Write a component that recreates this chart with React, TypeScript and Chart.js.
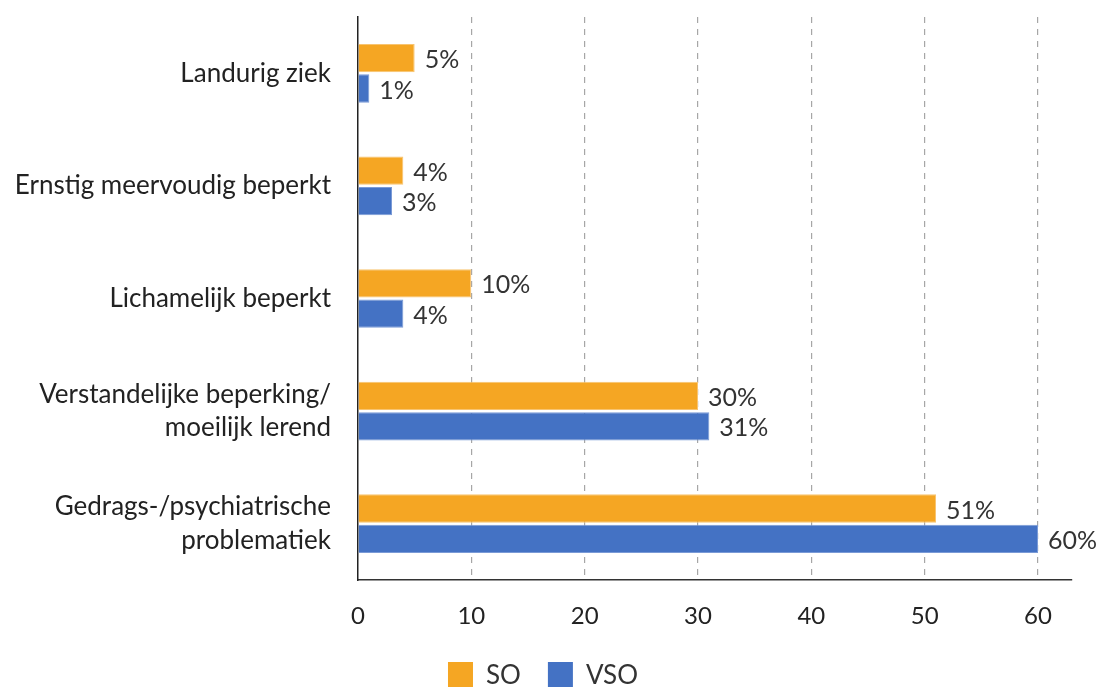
import React, { useEffect, useRef } from "react";
import { Chart, registerables } from "chart.js";

Chart.register(...registerables);

const categories: (string | string[])[] = [
  "Landurig ziek",
  "Ernstig meervoudig beperkt",
  "Lichamelijk beperkt",
  ["Verstandelijke beperking/", "moeilijk lerend"],
  ["Gedrags-/psychiatrische", "problematiek"],
];
const soValues = [5, 4, 10, 30, 51];
const vsoValues = [1, 3, 4, 31, 60];
const xTicks = [0, 10, 20, 30, 40, 50, 60];

const FONT = "Lato, 'Open Sans', sans-serif";

const valueLabels = {
  id: "valueLabels",
  afterDatasetsDraw(chart: any) {
    const ctx = chart.ctx;
    ctx.save();
    ctx.font = `25px ${FONT}`;
    ctx.fillStyle = "#333333";
    ctx.textAlign = "left";
    ctx.textBaseline = "middle";
    chart.data.datasets.forEach((ds: any, i: number) => {
      const meta = chart.getDatasetMeta(i);
      meta.data.forEach((bar: any, j: number) => {
        ctx.fillText(`${ds.data[j]}%`, bar.x + 10, bar.y + 2);
      });
    });
    ctx.restore();
  },
};

// Legend drawn from the chart's datasets, placed at the bottom of the canvas.
const bottomLegend = {
  id: "bottomLegend",
  afterDraw(chart: any) {
    const ctx = chart.ctx;
    const box = 25;
    const textGap = 13;
    const itemGap = 27;
    ctx.save();
    ctx.font = `26px ${FONT}`;
    ctx.textBaseline = "middle";
    ctx.textAlign = "left";
    const items = chart.data.datasets.map((ds: any) => ({
      label: ds.label as string,
      color: ds.backgroundColor as string,
      w: ctx.measureText(ds.label).width,
    }));
    const total =
      items.reduce((s: number, it: any) => s + box + textGap + it.w, 0) + itemGap * (items.length - 1);
    let x = chart.width / 2 - 8 - total / 2;
    const top = chart.height - 25;
    items.forEach((it: any) => {
      ctx.fillStyle = it.color;
      ctx.fillRect(x, top, box, box);
      x += box + textGap;
      ctx.fillStyle = "#333333";
      ctx.fillText(it.label, x, top + box / 2 + 1);
      x += it.w + itemGap;
    });
    ctx.restore();
  },
};

export default function App() {
  const ref = useRef<HTMLCanvasElement>(null);
  useEffect(() => {
    document.body.style.margin = "0";
    const chart = new Chart(ref.current!, {
      type: "bar",
      data: {
        labels: categories,
        datasets: [
          {
            label: "SO",
            data: soValues,
            backgroundColor: "#F5A623",
            borderColor: "#F8C470",
            borderWidth: 1,
            categoryPercentage: 0.54,
            barPercentage: 0.93,
          },
          {
            label: "VSO",
            data: vsoValues,
            backgroundColor: "#4472C4",
            borderColor: "#7A9AD6",
            borderWidth: 1,
            categoryPercentage: 0.54,
            barPercentage: 0.93,
          },
        ],
      },
      options: {
        indexAxis: "y",
        animation: false,
        responsive: false,
        layout: { padding: { top: 17, right: 30, left: 0, bottom: 37 } },
        plugins: {
          legend: { display: false },
          tooltip: { enabled: false },
        },
        scales: {
          x: {
            min: 0,
            max: 63,
            afterBuildTicks: (scale: any) => {
              scale.ticks = xTicks.map((v) => ({ value: v }));
            },
            afterFit: (scale: any) => {
              scale.height = 70;
              scale.paddingLeft = 0;
              scale.paddingRight = 0;
            },
            grid: {
              color: (c: any) => (c.tick && c.tick.value === 0 ? "rgba(0,0,0,0)" : "#A6A6A6"),
              lineWidth: 1.2,
              tickLength: 0,
              drawTicks: false,
            },
            border: { display: true, color: "#333333", width: 1.5, dash: [6, 6] as any },
            ticks: {
              color: "#222222",
              padding: 22,
              font: { family: FONT, size: 24 },
            },
          },
          y: {
            afterFit: (scale: any) => {
              scale.width = 358;
              scale.paddingTop = 0;
              scale.paddingBottom = 0;
            },
            grid: { display: false, drawTicks: false },
            border: { display: true, color: "#222222", width: 1.5 },
            ticks: {
              color: "#222222",
              padding: 27,
              font: { family: FONT, size: 26, lineHeight: 1.3 },
            },
          },
        },
      },
      plugins: [valueLabels, bottomLegend],
    } as any);
    return () => chart.destroy();
  }, []);
  return <canvas ref={ref} width={1102} height={687} style={{ display: "block" }} />;
}
